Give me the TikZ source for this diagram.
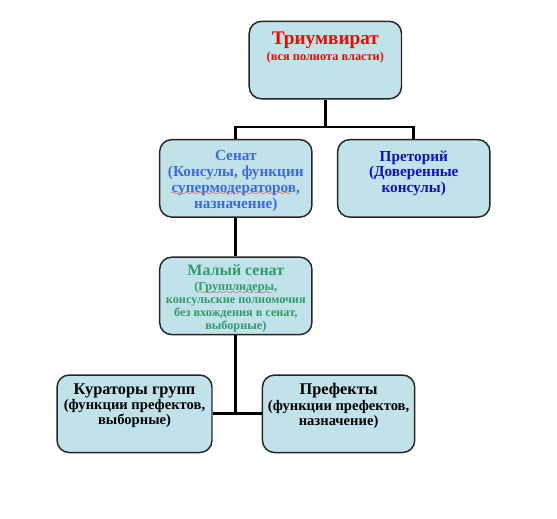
\documentclass[tikz,border=0pt]{standalone}
\usepackage{fontspec}
\setmainfont{Liberation Serif}
\usetikzlibrary{positioning, backgrounds}
\definecolor{boxfill} {HTML}{C2E2E9}
\definecolor{boxline} {HTML}{262626}
\definecolor{cTRI}    {HTML}{FF0000}
\definecolor{cSEN}    {HTML}{3B6BE0}
\definecolor{cPRE}    {HTML}{1010C8}
\definecolor{cMAL}    {HTML}{2F9A6A}
\definecolor{cSPELL}  {HTML}{E02020}
% red wavy spell-check underline
\font\spellwave=lasy6
\newcommand{\spellmark}[1]{\setbox0\hbox{#1}%
    \rlap{\textcolor{cSPELL}{\lower2.4pt\hbox to\wd0{\leaders\hbox{\spellwave\char58}\hfil}}}\box0}

\begin{document}
\begin{tikzpicture}[
    every node/.style={font=\bfseries},
    box/.style={
        draw=boxline, fill=boxfill,
        rounded corners=0.32cm, line width=1.1pt,
        minimum width=4.03cm, minimum height=2.05cm
    },
    txt/.style={
        anchor=north, align=center, inner sep=0pt,
        font=\bfseries\fontsize{11.5}{12}\selectfont
    },
    link/.style={line width=2.2pt, draw=black}
]

% ── BACKGROUND ─────────────────────────────────────────────────
\begin{scope}[on background layer]
    \fill[white] (0, 0) rectangle (14.74, -13.73);
\end{scope}
\useasboundingbox (0, 0) rectangle (14.74, -13.73);

% === TOP ===
\node[box] (trium) at (8.61, -1.59) {};
\node[txt, font=\bfseries\fontsize{9.3}{11.6}\selectfont, text=cTRI,
      below=0.3cm of trium.north]
    (triumT)
    {{\fontsize{14.5}{14}\selectfont Триумвират}\\(вся полнота власти)};

% === SECOND ROW ===
\node[box] (senat) at (6.24, -4.72) {};
\node[txt, text=cSEN, below=0.3cm of senat.north]
    (senatT)
    {Сенат\\(Консулы, функции\\\spellmark{супермодераторов},\\назначение)};

\node[box] (pretor) at (10.95, -4.72) {};
\node[txt, text=cPRE, below=0.3cm of pretor.north]
    (pretorT)
    {Преторий\\(Доверенные\\консулы)};

% === THIRD ROW ===
\node[box] (malyj) at (6.24, -7.83) {};
\node[txt, font=\bfseries\fontsize{9.2}{9.8}\selectfont, text=cMAL,
      below=0.2cm of malyj.north]
    (malyjT)
    {{\fontsize{12}{12}\selectfont Малый сенат}\\[2pt]
     (\spellmark{Групплидеры},\\консульские полномочия\\без вхождения в сенат,\\выборные)};

% === BOTTOM ROW ===
\node[box, minimum width=4.1cm] (kurat) at (3.56, -10.95) {};
\node[txt, font=\bfseries\fontsize{11}{11.3}\selectfont,
      below=0.24cm of kurat.north]
    (kuratT)
    {{\fontsize{12.3}{12}\selectfont Кураторы групп}\\(функции префектов,\\выборные)};

\node[box] (prefekt) at (8.96, -10.95) {};
\node[txt, font=\bfseries\fontsize{11}{11.3}\selectfont,
      below=0.24cm of prefekt.north]
    (prefektT)
    {{\fontsize{12.3}{12}\selectfont Префекты}\\(функции префектов,\\назначение)};

% ── CONNECTORS ─────────────────────────────────────────────────
\coordinate (bus) at (8.61, -3.36);

\draw[link] (trium.south) -- (bus);
\draw[link] (senat.north) |- (bus) -| (pretor.north);
\draw[link] (senat.south) -- (malyj.north);
\draw[link] (kurat.east) -- (prefekt.west);
\draw[link] (malyj.south) -- (malyj.south |- kurat.east);

\end{tikzpicture}
\end{document}
